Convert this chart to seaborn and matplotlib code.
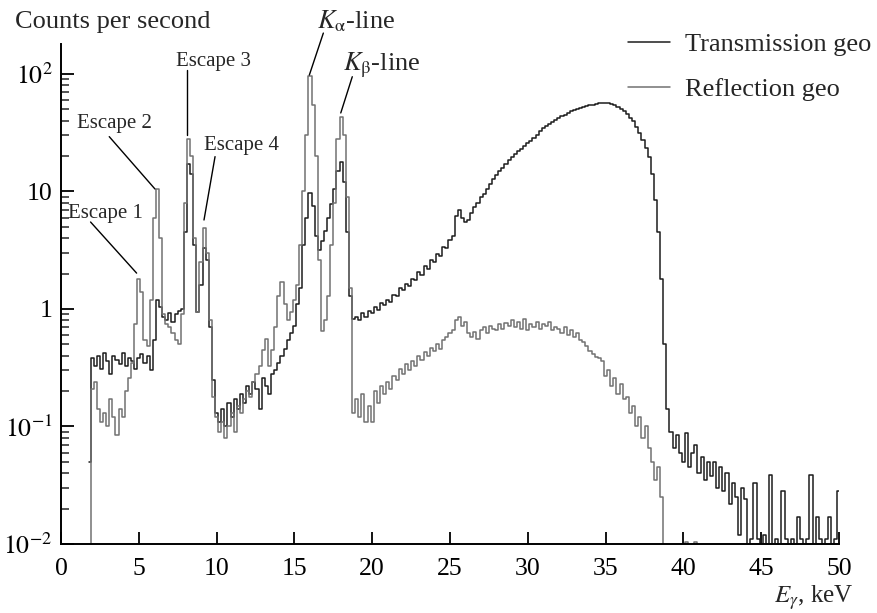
import numpy as np
import pandas as pd
import matplotlib
matplotlib.use('Agg')
import matplotlib.pyplot as plt
import matplotlib.ticker as ticker
import seaborn as sns

# channel centres: E_FIRST, E_FIRST+E_STEP, ... (keV)
E_FIRST = 1.8
E_STEP = 0.2

# counts per second, one row = 10 channels (2 keV)
transmission = [
    0.05, 0.38, 0.33, 0.40, 0.31, 0.42, 0.36, 0.28, 0.40, 0.37,     # 1.8
    0.34, 0.42, 0.33, 0.38, 0.36, 0.31, 0.38, 0.41, 0.35, 0.40,     # 3.8
    0.30, 0.55, 1.20, 1.05, 0.85, 0.80, 0.92, 0.78, 0.90, 0.96,     # 5.8
    1.00, 4.5, 17.0, 14.0, 3.5, 0.95, 1.6, 3.3, 2.6, 0.70,          # 7.8
    0.25, 0.13, 0.11, 0.14, 0.10, 0.16, 0.12, 0.17, 0.14, 0.19,     # 9.8
    0.16, 0.22, 0.19, 0.24, 0.21, 0.14, 0.26, 0.22, 0.19, 0.28,     # 11.8
    0.30, 0.35, 0.40, 0.46, 0.55, 0.62, 0.72, 1.10, 1.50, 3.50,     # 13.8
    6.0, 9.7, 7.5, 4.2, 3.2, 3.8, 4.6, 6.0, 7.8, 10.5,              # 15.8
    15.0, 17.8, 12.0, 4.5, 1.3, 0.82, 0.85, 0.80, 0.92, 0.86,       # 17.8
    0.97, 0.93, 1.05, 0.98, 1.12, 1.08, 1.20, 1.15, 1.32, 1.28,     # 19.8
    1.50, 1.45, 1.62, 1.58, 1.80, 1.75, 2.05, 1.95, 2.30, 2.20,     # 21.8
    2.60, 2.50, 2.95, 2.85, 3.35, 3.30, 3.90, 4.20, 6.20, 6.90,     # 23.8
    6.0, 5.5, 5.7, 6.6, 7.4, 8.0, 8.9, 9.6, 10.6, 11.5,             # 25.8
    12.8, 13.8, 14.8, 16.0, 17.2, 18.4, 19.8, 20.8, 22.0, 23.0,     # 27.8
    24.5, 25.8, 27.0, 28.4, 30.0, 32.5, 34.5, 35.8, 37.4, 39.0,     # 29.8
    40.6, 42.0, 43.5, 45.0, 46.3, 48.0, 49.5, 50.5, 51.8, 52.8,     # 31.8
    53.5, 54.2, 55.0, 55.6, 56.2, 56.8, 57.0, 56.5, 55.5, 54.0,     # 33.8
    52.0, 50.0, 48.0, 45.5, 42.5, 39.5, 35.5, 31.5, 27.5, 23.5,     # 35.8
    19.5, 14.0, 8.5, 4.5, 1.8, 0.5, 0.14, 0.09, 0.065, 0.085,       # 37.8
    0.06, 0.05, 0.088, 0.045, 0.06, 0.07, 0.04, 0.055, 0.035, 0.05, # 39.8
    0.038, 0.05, 0.03, 0.045, 0.028, 0.04, 0.022, 0.033, 0.025, 0.012,  # 41.8
    0.03, 0.024, 0.005, 0.011, 0.033, 0.011, 0.005, 0.012, 0.005, 0.039,  # 43.8
    0.005, 0.011, 0.005, 0.028, 0.011, 0.005, 0.011, 0.005, 0.017, 0.011,  # 45.8
    0.005, 0.011, 0.039, 0.005, 0.017, 0.011, 0.005, 0.011, 0.017, 0.005,  # 47.8
    0.011, 0.028,                                                    # 49.8
]

reflection = [
    0.001, 0.21, 0.24, 0.14, 0.11, 0.13, 0.10, 0.17, 0.12, 0.085,   # 1.8
    0.14, 0.12, 0.20, 0.26, 0.35, 0.75, 1.80, 1.40, 0.55, 0.48,     # 3.8
    1.20, 6.0, 10.5, 4.0, 0.90, 0.75, 0.70, 0.62, 0.55, 0.50,       # 5.8
    0.90, 8.0, 28.0, 20.0, 4.0, 0.95, 2.5, 4.9, 3.0, 0.80,          # 7.8
    0.18, 0.12, 0.09, 0.11, 0.08, 0.10, 0.13, 0.09, 0.15, 0.13,     # 9.8
    0.17, 0.20, 0.18, 0.24, 0.28, 0.33, 0.45, 0.56, 0.33, 0.45,     # 11.8
    0.70, 1.3, 1.7, 1.1, 0.80, 0.95, 1.2, 1.6, 3.5, 10.0,           # 13.8
    30.0, 96.0, 55.0, 20.0, 2.6, 0.65, 0.80, 1.3, 3.5, 8.0,         # 15.8
    28.0, 43.0, 30.0, 9.0, 1.5, 0.13, 0.17, 0.12, 0.19, 0.11,       # 17.8
    0.15, 0.11, 0.20, 0.16, 0.22, 0.19, 0.24, 0.21, 0.27, 0.25,     # 19.8
    0.31, 0.28, 0.34, 0.30, 0.36, 0.33, 0.40, 0.37, 0.43, 0.40,     # 21.8
    0.47, 0.44, 0.50, 0.46, 0.54, 0.58, 0.62, 0.66, 0.80, 0.85,     # 23.8
    0.72, 0.78, 0.62, 0.58, 0.64, 0.56, 0.66, 0.70, 0.62, 0.72,     # 25.8
    0.68, 0.66, 0.74, 0.68, 0.76, 0.72, 0.80, 0.70, 0.78, 0.68,     # 27.8
    0.82, 0.66, 0.74, 0.70, 0.78, 0.68, 0.74, 0.72, 0.78, 0.66,     # 29.8
    0.70, 0.68, 0.62, 0.70, 0.60, 0.66, 0.58, 0.62, 0.55, 0.52,     # 31.8
    0.48, 0.44, 0.41, 0.39, 0.38, 0.36, 0.27, 0.30, 0.22, 0.26,     # 33.8
    0.19, 0.23, 0.17, 0.18, 0.13, 0.15, 0.10, 0.12, 0.08, 0.10,     # 35.8
    0.065, 0.05, 0.035, 0.045, 0.025, 0.001, 0.001, 0.001, 0.001, 0.001,  # 37.8
    0.001, 0.001, 0.0105, 0.001, 0.001, 0.0105, 0.001, 0.001, 0.001, 0.001,  # 39.8
    0.001, 0.001, 0.001, 0.001, 0.001, 0.001, 0.001, 0.001, 0.001, 0.001,  # 41.8
    0.001, 0.001, 0.001, 0.001, 0.001, 0.001, 0.001, 0.001, 0.001, 0.001,  # 43.8
    0.001, 0.001, 0.001, 0.001, 0.001, 0.001, 0.001, 0.001, 0.001, 0.001,  # 45.8
    0.001, 0.001, 0.001, 0.001, 0.001, 0.001, 0.001, 0.001, 0.001, 0.001,  # 47.8
    0.001, 0.001,                                                    # 49.8
]

series_names = ['Transmission geo', 'Reflection geo']
series_colors = ['#1c1c1c', '#727272']

y_ticks = [1e-2, 1e-1, 1, 10, 100]
y_tick_labels = [r'$10^{-2}$', r'$10^{-1}$', '1', '10', r'$10^{2}$']
x_ticks = [0, 5, 10, 15, 20, 25, 30, 35, 40, 45, 50]

# peak labels: (text, text x, text y, line from, line to)
peak_labels = [
    ('Escape 1', 2.86, 5.95, (1.9, 5.5), (4.86, 2.02)),
    ('Escape 2', 3.44, 34.7, (3.1, 29.3), (6.04, 10.5)),
    ('Escape 3', 9.8, 117, (8.12, 108), (8.12, 30.3)),
    ('Escape 4', 11.57, 22.6, (9.9, 19.8), (9.19, 5.72)),
]
line_labels = [
    (r'$K_{\mathrm{\alpha}}$-line', 18.96, 246, (16.86, 223), (15.96, 98)),
    (r'$K_{\mathrm{\beta}}$-line', 20.6, 108, (18.72, 94.8), (17.98, 46.6)),
]

def buildFrame():
    energy = np.round(E_FIRST + E_STEP*np.arange(len(transmission)), 2)
    frames = []
    for name, vals in zip(series_names, [transmission, reflection]):
        frames.append(pd.DataFrame({'energy': energy[:len(vals)], 'cps': vals, 'geometry': name}))
    return pd.concat(frames, ignore_index=True)

df = buildFrame()

sns.set_style('ticks')
plt.rcParams['font.family'] = ['Liberation Serif', 'DejaVu Serif']
plt.rcParams['mathtext.fontset'] = 'stix'

fig = plt.figure(figsize=(8.78, 6.13), dpi=100)
ax = fig.add_axes([61/878, 1-544/613, (839-61)/878, (544-44)/613])

sns.lineplot(data=df, x='energy', y='cps', hue='geometry', hue_order=series_names,
             palette=dict(zip(series_names, series_colors)), estimator=None, sort=False,
             drawstyle='steps-mid', linewidth=1.1, ax=ax)

ax.set_yscale('log')
ax.set_xlim(0, 50)
ax.set_ylim(1e-2, 180)
ax.set_yticks(y_ticks)
ax.set_yticklabels(y_tick_labels)
ax.yaxis.set_minor_locator(ticker.LogLocator(base=10, subs=np.arange(2, 10)))
ax.yaxis.set_minor_formatter(ticker.NullFormatter())
ax.set_xticks(x_ticks)
ax.set_xticklabels([str(t) for t in x_ticks])
ax.tick_params(which='major', direction='in', length=9, width=1.3, labelsize=18.5, colors='black')
ax.tick_params(which='minor', direction='in', length=6, width=1.1)
ax.tick_params(axis='x', which='major', pad=10)
ax.tick_params(axis='y', which='major', pad=6)
ax.set_xlabel('')
ax.set_ylabel('')
sns.despine(ax=ax)
for s in ['left', 'bottom']:
    ax.spines[s].set_linewidth(1.4)
    ax.spines[s].set_color('black')

for txt, tx, ty, p0, p1 in peak_labels:
    ax.plot([p0[0], p1[0]], [p0[1], p1[1]], color='black', lw=1.0, clip_on=False)
    ax.text(tx, ty, txt, ha='center', va='baseline', fontsize=15)
for txt, tx, ty, p0, p1 in line_labels:
    ax.plot([p0[0], p1[0]], [p0[1], p1[1]], color='black', lw=1.0, clip_on=False)
    ax.text(tx, ty, txt, ha='center', va='baseline', fontsize=19)

fig.text(15/878, 1-28/613, 'Counts per second', ha='left', va='baseline', fontsize=19)
fig.text(853/878, 1-603/613, r'$E_{\gamma}$, keV', ha='right', va='baseline', fontsize=18)

sns.move_legend(ax, loc='upper left', bbox_to_anchor=(628/878, 1-33/613),
                bbox_transform=fig.transFigure, frameon=False, title=None, fontsize=19,
                handlelength=1.6, handletextpad=0.55, labelspacing=0.8,
                borderpad=0, borderaxespad=0)

fig.savefig('out.png', dpi=100)
plt.close()
